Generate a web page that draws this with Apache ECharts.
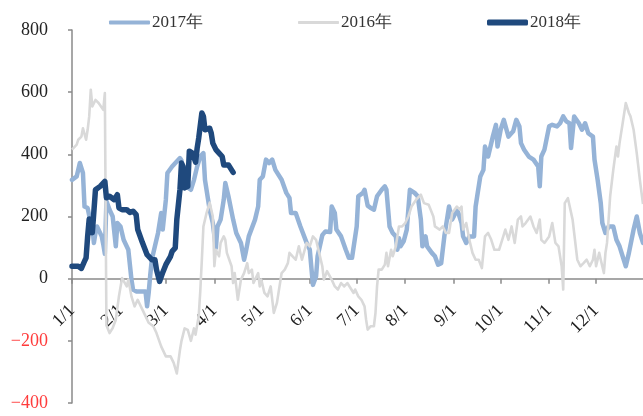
<!DOCTYPE html>
<html>
<head>
<meta charset="utf-8">
<script src="https://cdn.jsdelivr.net/npm/echarts@6/dist/echarts.min.js"></script>
<style>
  html, body { margin: 0; padding: 0; background: #fff; }
  #chart { width: 643px; height: 416px; }
</style>
</head>
<body>
<div id="chart"></div>
<script>
// x categories: every day of the year, labelled "M/D"
var monthDays = [31, 29, 31, 30, 31, 30, 31, 31, 30, 31, 30, 31];
var days = [];
for (var m = 0; m < 12; m++) {
    for (var d = 1; d <= monthDays[m]; d++) {
        days.push((m + 1) + '/' + d);
    }
}

var yTicks = [-400, -200, 0, 200, 400, 600, 800];

var dates2017 = ['1/1','1/4','1/6','1/7','1/8','1/9','1/11','1/13','1/14','1/15','1/16','1/17','1/20','1/21','1/22','1/23','1/25','1/27','1/29','1/30',
    '2/1','2/3','2/6','2/8','2/9','2/11','2/17','2/18','2/19','2/20','2/21','2/23','2/25','2/27','2/28',
    '3/1','3/2','3/5','3/10','3/11','3/12','3/14','3/17','3/19','3/21','3/23','3/25','3/26','3/29','3/31',
    '4/2','4/3','4/5','4/7','4/8','4/10','4/13','4/15','4/18','4/20','4/21','4/23','4/27','4/29','4/30',
    '5/2','5/4','5/6','5/8','5/10','5/14','5/17','5/19','5/20','5/23','5/26','5/30',
    '6/1','6/3','6/5','6/6','6/9','6/11','6/14','6/15','6/17','6/18','6/21','6/24','6/26','6/28',
    '7/1','7/2','7/5','7/6','7/8','7/10','7/12','7/14','7/17','7/19','7/20','7/22','7/24','7/26','7/27','7/28','7/29','7/31',
    '8/2','8/4','8/7','8/9','8/11','8/12','8/14','8/15','8/18','8/20','8/22','8/24','8/26','8/28','8/29','8/31',
    '9/1','9/3','9/4','9/6','9/7','9/9','9/11','9/14','9/15','9/16','9/18','9/20','9/21','9/23','9/26','9/28','9/29',
    '10/1','10/3','10/6','10/9','10/11','10/13','10/14','10/16','10/19','10/22','10/25','10/26','10/27','10/29',
    '11/1','11/3','11/6','11/8','11/10','11/12','11/14','11/15','11/17','11/20','11/22','11/24','11/26','11/29','11/30',
    '12/2','12/4','12/5','12/7','12/9','12/12','12/14','12/16','12/20','12/22','12/25','12/27','12/29','12/31'];
var values2017 = [318,329,372,372,340,232,227,179,168,115,147,168,136,110,80,250,222,200,104,179,
    168,125,93,-3,-35,-41,-41,-89,-46,10,61,104,147,211,158,
    254,340,361,388,380,300,297,286,318,361,393,404,318,222,179,
    99,168,190,254,308,265,190,147,115,61,83,136,190,232,318,
    329,383,372,383,350,318,276,260,211,211,168,115,
    93,-20,7,72,140,152,150,232,211,158,136,93,67,67,
    168,265,276,286,235,227,222,265,286,297,286,168,147,136,93,130,104,120,
    158,286,276,265,190,104,136,104,83,72,45,50,136,200,232,190,
    200,222,211,179,136,115,136,136,232,265,329,350,425,393,457,495,425,
    479,511,457,474,511,490,436,415,393,383,361,297,393,415,
    490,495,490,500,522,506,500,420,522,500,479,500,468,457,383,
    318,243,179,147,168,168,125,104,40,83,158,200,147,115];

var dates2016 = ['1/1','1/4','1/5','1/7','1/8','1/10','1/11','1/12','1/13','1/14','1/16','1/18','1/21','1/22','1/23','1/25','1/27','1/29','1/31',
    '2/2','2/5','2/6','2/8','2/10','2/12','2/14','2/16','2/19','2/22','2/24','2/27',
    '3/1','3/4','3/6','3/8','3/10','3/11','3/13','3/15','3/17','3/19','3/20','3/22','3/23','3/24','3/25','3/27','3/29','3/31',
    '4/1','4/2','4/4','4/5','4/7','4/8','4/9','4/12','4/13','4/14','4/16','4/18','4/20','4/22','4/23','4/25','4/26','4/29','4/30',
    '5/1','5/3','5/5','5/7','5/9','5/11','5/14','5/16','5/18','5/19','5/21','5/23','5/25','5/27','5/30',
    '6/1','6/3','6/5','6/7','6/9','6/10','6/12','6/15','6/17','6/19','6/21','6/23','6/25','6/27','6/29','6/30',
    '7/2','7/4','7/6','7/7','7/8','7/10','7/12','7/13','7/14','7/15','7/17','7/19','7/20','7/21','7/23','7/24','7/26','7/28','7/30',
    '8/1','8/3','8/5','8/8','8/11','8/13','8/16','8/19','8/20','8/23','8/25','8/27','8/29','8/31',
    '9/3','9/5','9/6','9/7','9/9','9/11','9/13','9/15','9/17','9/19','9/21','9/23','9/25','9/27','9/30',
    '10/2','10/4','10/6','10/8','10/10','10/12','10/14','10/15','10/17','10/20','10/22','10/24','10/26','10/27','10/29',
    '11/1','11/3','11/5','11/7','11/9','11/10','11/11','11/13','11/14','11/16','11/17','11/19','11/21','11/23','11/25','11/27','11/29','11/30',
    '12/1','12/3','12/4','12/6','12/7','12/8','12/10','12/12','12/14','12/15','12/16','12/18','12/20','12/22','12/23','12/25','12/27','12/29','12/31'];
var values2016 = [415,431,447,457,484,447,479,522,608,554,575,565,543,597,-150,-175,-159,-132,-57,
    2,-25,-3,-57,-89,-68,-89,-110,-142,-153,-175,-218,
    -250,-250,-271,-305,-230,-200,-160,-165,-200,-160,-180,-120,-40,60,168,211,245,200,
    40,93,72,115,136,125,83,40,-14,18,-68,-3,18,50,18,29,-14,18,-25,
    -3,-46,-57,-25,-110,-78,18,29,50,83,72,61,104,61,115,
    104,136,125,83,40,-3,24,-3,-25,-35,-14,-25,-14,-30,-46,-35,
    -57,-68,-89,-132,-164,-153,-153,-110,-25,29,29,45,83,40,93,72,104,168,168,
    179,200,232,254,270,243,238,200,168,158,168,147,147,211,
    232,222,232,158,179,125,83,61,61,34,136,147,125,93,93,
    125,158,125,168,115,190,200,168,179,200,168,147,190,125,115,
    136,179,115,104,40,-35,243,259,265,190,147,61,40,50,61,40,61,93,
    40,83,61,18,83,115,265,350,425,393,436,500,565,533,522,479,404,318,240];

var dates2018 = ['1/1','1/5','1/7','1/9','1/10','1/11','1/12','1/14','1/16','1/19','1/22','1/23','1/25','1/28','1/30','1/31',
    '2/2','2/5','2/7','2/9','2/11','2/12','2/15','2/18','2/21','2/23','2/24','2/26','2/27','2/28',
    '3/1','3/4','3/5','3/7','3/8','3/10','3/11','3/12','3/13','3/15','3/16','3/18','3/20','3/21','3/22','3/24','3/25','3/26','3/29','3/30','3/31',
    '4/2','4/4','4/6','4/7','4/10','4/12','4/13'];
var values2018 = [40,40,33,56,67,136,192,148,286,297,313,260,265,254,270,228,
    222,222,213,217,206,158,116,77,61,61,29,-9,-14,20,
    45,72,88,99,190,286,372,361,292,297,410,404,375,420,452,533,522,479,484,468,436,
    415,404,393,366,366,350,342];

var serif = "'Times New Roman', 'Liberation Serif', serif";

// grid geometry, used to put the category axis on the zero line
var gridTop = 30, gridBottom = 13, chartHeight = 416;
var plotHeight = chartHeight - gridTop - gridBottom;
var zeroShift = plotHeight * (0 - yTicks[0]) / (yTicks[yTicks.length - 1] - yTicks[0]);

function pairs(dates, values) {
    return dates.map(function (d, i) { return [d, values[i]]; });
}
function monthStart(index, value) {
    return /\/1$/.test(value);
}
function legendAt(name, left, h) {
    return {
        data: [name],
        left: left,
        top: 9,
        icon: 'roundRect',
        itemWidth: 41,
        itemHeight: h,
        itemGap: 0,
        itemStyle: { borderWidth: 0 },
        textStyle: { fontFamily: serif, fontSize: 17, color: '#333', padding: [0, 0, 0, -3] }
    };
}

var myChart = echarts.init(document.getElementById('chart'));
var option = {
    animation: false,
    backgroundColor: '#fff',
    grid: { left: 72, right: 0, top: gridTop, bottom: gridBottom, containLabel: false, outerBoundsMode: 'none' },
    legend: [
        legendAt('2017年', 104, 4),
        legendAt('2016年', 293, 3),
        legendAt('2018年', 482, 6)
    ],
    xAxis: {
        type: 'category',
        data: days,
        boundaryGap: false,
        offset: -zeroShift,
        axisLine: { onZero: false, lineStyle: { color: '#8a8a8a', width: 1.5 } },
        axisTick: { interval: monthStart, length: 5, lineStyle: { color: '#8a8a8a', width: 1.5 } },
        axisLabel: {
            interval: monthStart,
            rotate: 45,
            margin: 29,
            fontFamily: serif,
            fontSize: 18,
            color: '#222'
        },
        splitLine: { show: false }
    },
    yAxis: {
        type: 'value',
        min: yTicks[0],
        max: yTicks[yTicks.length - 1],
        interval: 200,
        axisLine: { show: true, lineStyle: { color: '#8a8a8a', width: 1.5 } },
        axisTick: { show: true, length: 4, lineStyle: { color: '#8a8a8a', width: 1.5 } },
        splitLine: { show: false },
        axisLabel: {
            margin: 24,
            fontFamily: serif,
            fontSize: 18,
            color: function (value) { return value < 0 ? '#ff3b3b' : '#222'; },
            formatter: function (value) { return String(value).replace('-', '\u2212'); }
        }
    },
    series: [
        {
            name: '2017年',
            type: 'line',
            symbol: 'none',
            data: pairs(dates2017, values2017),
            itemStyle: { color: '#95b3d7' },
            lineStyle: { color: '#95b3d7', width: 4.5, join: 'round', cap: 'round' }
        },
        {
            name: '2016年',
            type: 'line',
            symbol: 'none',
            data: pairs(dates2016, values2016),
            itemStyle: { color: '#d9d9d9' },
            lineStyle: { color: '#d9d9d9', width: 2.6, join: 'round' }
        },
        {
            name: '2018年',
            type: 'line',
            symbol: 'none',
            data: pairs(dates2018, values2018),
            itemStyle: { color: '#1f497d' },
            lineStyle: { color: '#1f497d', width: 5.5, join: 'round', cap: 'round' }
        }
    ]
};
myChart.setOption(option);
</script>
</body>
</html>
